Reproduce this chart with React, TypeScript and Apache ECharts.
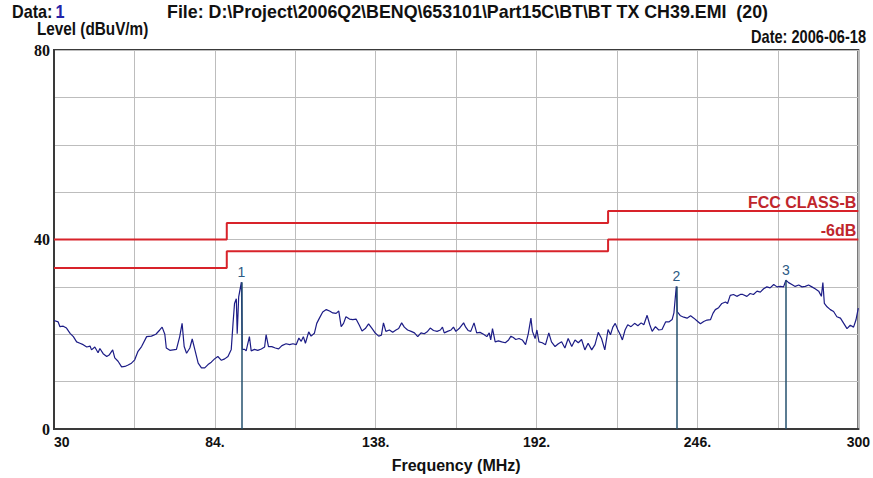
import React, { useEffect, useRef } from "react";
import * as echarts from "echarts";

// Measured trace (frequency in MHz, level in dBuV/m)
const freqs: number[] = [
  30.0, 31.4, 32.0, 33.1, 34.2, 35.4, 36.5, 37.6, 38.7, 39.8, 41.0, 42.1, 42.6, 43.7, 44.8, 45.4, 46.5, 47.7, 48.5, 49.7,
  50.4, 51.5, 52.7, 53.8, 54.9, 56.0, 57.1, 58.2, 59.4, 61.1, 62.7, 64.2, 65.5, 66.3, 67.2, 67.7, 68.9, 70.0, 71.1, 72.2,
  73.0, 73.7, 74.5, 75.6, 76.4, 77.3, 78.4, 79.5, 80.6, 81.7, 82.8, 83.9, 85.0, 86.2, 87.3, 88.4, 89.5, 90.1, 90.6, 91.2,
  91.5, 92.0, 92.9, 93.2, 94.0, 94.5, 95.6, 96.2, 97.3, 98.4, 99.6, 100.7, 101.2, 102.0, 103.1, 104.3, 105.4, 106.5, 107.9, 109.1,
  110.2, 111.3, 112.2, 113.0, 113.7, 114.4, 115.5, 116.3, 117.4, 118.2, 119.1, 120.2, 121.4, 122.5, 123.6, 124.7, 125.6, 126.4, 127.2, 128.0,
  129.2, 130.3, 131.4, 132.5, 133.4, 134.5, 135.6, 136.8, 137.9, 139.0, 139.9, 140.6, 141.4, 142.6, 143.7, 144.8, 145.7, 146.7, 147.6, 148.7,
  149.9, 151.0, 152.1, 153.2, 154.3, 155.4, 156.3, 157.4, 158.6, 159.7, 160.4, 161.0, 162.1, 163.3, 164.1, 164.9, 166.0, 167.5, 168.2, 169.0,
  169.9, 171.0, 171.9, 173.0, 174.2, 175.3, 176.1, 176.6, 177.2, 178.1, 179.2, 180.3, 181.5, 182.6, 183.4, 184.2, 185.0, 186.1, 187.2, 188.3,
  189.2, 190.1, 190.6, 191.5, 192.1, 192.8, 193.9, 195.0, 196.1, 197.0, 198.2, 199.3, 200.4, 201.5, 202.6, 203.8, 204.9, 206.0, 207.1, 208.2,
  209.3, 210.5, 211.6, 212.7, 213.8, 214.9, 216.0, 216.8, 217.6, 218.4, 219.3, 220.1, 220.8, 221.7, 222.6, 223.7, 224.9, 226.0, 227.1, 228.0,
  229.1, 230.0, 230.8, 231.9, 233.0, 234.1, 235.3, 236.4, 237.5, 238.1, 238.9, 239.2, 240.3, 241.4, 242.5, 243.7, 244.8, 245.9, 247.0, 248.1,
  249.2, 250.4, 251.2, 252.0, 253.1, 254.2, 255.4, 256.1, 257.0, 258.1, 259.2, 260.4, 261.2, 262.6, 263.7, 264.8, 266.0, 267.1, 268.2, 269.3,
  270.4, 271.6, 272.7, 273.8, 274.9, 275.7, 276.6, 277.7, 278.8, 280.0, 281.1, 282.2, 283.3, 284.4, 285.5, 286.7, 287.6, 288.1, 288.6, 289.5,
  290.6, 291.7, 292.8, 294.0, 295.1, 296.2, 297.3, 298.4, 299.2, 300.0,
];
const levels: number[] = [
  22.9, 22.6, 21.6, 21.7, 21.3, 20.2, 19.5, 18.4, 18.1, 17.8, 17.3, 17.5, 16.7, 17.3, 16.1, 17.0, 15.9, 15.3, 15.6, 16.7,
  15.0, 14.3, 13.1, 13.2, 13.5, 13.9, 14.6, 16.4, 17.4, 19.5, 19.6, 20.0, 20.9, 21.5, 20.0, 17.1, 16.6, 16.7, 16.8, 19.5,
  22.3, 17.4, 16.0, 17.1, 19.0, 16.7, 13.9, 12.9, 12.9, 13.6, 14.1, 14.8, 15.3, 14.5, 14.8, 15.3, 16.8, 22.3, 26.5, 27.5,
  20.1, 27.9, 31.0, 16.8, 16.8, 16.5, 19.5, 16.5, 16.8, 16.6, 16.9, 17.3, 19.9, 17.4, 17.4, 17.1, 16.9, 17.6, 18.0, 17.8,
  18.0, 17.8, 19.2, 18.5, 19.5, 18.1, 20.5, 19.6, 20.2, 22.3, 23.4, 24.7, 25.2, 24.9, 24.5, 24.4, 24.9, 21.6, 22.3, 23.7,
  23.2, 23.1, 23.2, 21.9, 20.7, 21.2, 22.2, 21.2, 20.2, 19.6, 19.8, 22.4, 20.6, 20.9, 20.4, 20.9, 21.2, 22.4, 21.5, 20.9,
  20.6, 20.3, 19.5, 20.3, 20.1, 20.6, 21.3, 20.8, 20.6, 20.9, 21.5, 20.3, 20.6, 20.9, 21.5, 20.6, 21.2, 22.4, 21.5, 20.8,
  20.6, 22.4, 20.3, 20.4, 20.0, 19.5, 20.3, 18.8, 21.2, 18.4, 18.6, 18.4, 18.2, 18.8, 19.6, 19.3, 18.9, 19.1, 18.8, 17.8,
  20.1, 23.4, 20.6, 19.1, 20.9, 18.4, 18.2, 17.8, 20.3, 18.4, 17.4, 18.0, 18.4, 17.1, 19.1, 17.4, 18.8, 18.2, 18.9, 16.7,
  18.1, 16.7, 17.8, 20.4, 19.1, 16.7, 21.0, 19.9, 21.5, 22.3, 20.9, 19.9, 18.8, 20.9, 22.0, 21.6, 22.3, 21.8, 22.4, 22.0,
  24.0, 22.0, 20.6, 21.6, 20.9, 21.0, 22.6, 22.6, 23.1, 24.5, 30.1, 24.8, 23.9, 23.6, 23.4, 23.9, 23.4, 22.8, 22.2, 22.7,
  23.0, 23.1, 24.4, 25.2, 25.6, 26.5, 26.8, 26.5, 28.2, 28.4, 28.0, 28.4, 28.4, 28.0, 28.6, 28.4, 29.1, 28.9, 29.6, 30.0,
  29.8, 30.5, 30.0, 30.1, 30.0, 31.4, 30.9, 30.5, 30.1, 30.4, 30.0, 30.1, 30.4, 30.0, 29.6, 29.1, 28.0, 30.9, 26.5, 25.8,
  25.2, 24.8, 23.7, 23.4, 22.3, 21.2, 21.9, 21.5, 23.0, 25.5,
];

// FCC Class B limit and the -6 dB margin line (step functions)
const limitFreqs: number[] = [30, 88, 88, 216, 216, 300];
const classBLimit: number[] = [40, 40, 43.5, 43.5, 46, 46];
const marginLimit: number[] = [34, 34, 37.5, 37.5, 40, 40];

// Markers
const markerLabels: string[] = ["1", "2", "3"];
const markerFreqs: number[] = [92.9, 238.9, 275.7];
const markerLevels: number[] = [31.0, 30.1, 31.4];

// Axis ticks
const xMin = 30;
const xMax = 300;
const xStep = 27;
const xLabelFreqs: number[] = [30, 84, 138, 192, 246, 300];
const xLabelTexts: string[] = ["30", "84.", "138.", "192.", "246.", "300"];
const yLabelValues: number[] = [0, 40, 80];

const SANS = "'Liberation Sans', Arial, sans-serif";
const SERIF = "'Liberation Serif', 'Times New Roman', serif";

export default function App() {
  const ref = useRef<HTMLDivElement>(null);

  useEffect(() => {
    if (!ref.current) return;
    const chart = echarts.init(ref.current, undefined, { renderer: "svg" });

    const trace = freqs.map((f, i) => [f, levels[i]]);
    const lim1 = limitFreqs.map((f, i) => [f, classBLimit[i]]);
    const lim2 = limitFreqs.map((f, i) => [f, marginLimit[i]]);

    const headerStyle = { fontFamily: SANS, fontWeight: "bold", fontSize: 18, fill: "#111" };

    chart.setOption({
      animation: false,
      backgroundColor: "#ffffff",
      grid: {
        left: 54,
        right: 13,
        top: 50,
        bottom: 47,
        show: true,
        borderColor: "#3a3a3a",
        borderWidth: 2,
        backgroundColor: "#ffffff",
      },
      xAxis: {
        type: "value",
        min: xMin,
        max: xMax,
        interval: xStep,
        name: "Frequency (MHz)",
        nameLocation: "middle",
        nameGap: 28,
        nameTextStyle: { fontFamily: SANS, fontWeight: "bold", fontSize: 16, color: "#111" },
        axisLine: { show: true, lineStyle: { color: "#3a3a3a", width: 2 } },
        axisTick: { show: false },
        splitLine: { show: true, lineStyle: { color: "#bdbdbd", width: 1 } },
        axisLabel: {
          margin: 6,
          fontFamily: SANS,
          fontWeight: "bold",
          fontSize: 14,
          color: "#111",
          showMinLabel: true,
          showMaxLabel: true,
          alignMinLabel: "left",
          formatter: (v: number) => {
            const idx = xLabelFreqs.findIndex((f) => Math.abs(f - v) < 0.01);
            return idx >= 0 ? xLabelTexts[idx] : "";
          },
        },
      },
      yAxis: {
        type: "value",
        min: 0,
        max: 80,
        interval: 10,
        axisLine: { show: true, lineStyle: { color: "#3a3a3a", width: 2 } },
        axisTick: { show: false },
        splitLine: { show: true, lineStyle: { color: "#bdbdbd", width: 1 } },
        axisLabel: {
          margin: 4,
          fontFamily: SERIF,
          fontWeight: "bold",
          fontSize: 16,
          color: "#111",
          formatter: (v: number) => (yLabelValues.includes(v) ? String(v) : ""),
        },
      },
      series: [
        {
          type: "line",
          data: lim1,
          symbol: "none",
          lineStyle: { color: "#d8232a", width: 2 },
          z: 3,
          endLabel: {
            show: true,
            formatter: "FCC CLASS-B",
            align: "right",
            verticalAlign: "bottom",
            offset: [-10, -1],
            fontFamily: SANS,
            fontWeight: "bold",
            fontSize: 16,
            color: "#c0262c",
          },
        },
        {
          type: "line",
          data: lim2,
          symbol: "none",
          lineStyle: { color: "#d8232a", width: 2 },
          z: 3,
          endLabel: {
            show: true,
            formatter: "-6dB",
            align: "right",
            verticalAlign: "bottom",
            offset: [-10, -1],
            fontFamily: SANS,
            fontWeight: "bold",
            fontSize: 16,
            color: "#c0262c",
          },
        },
        {
          type: "line",
          data: trace,
          symbol: "none",
          lineStyle: { color: "#1c1c86", width: 1.2 },
          z: 4,
          markLine: {
            silent: true,
            symbol: ["none", "none"],
            lineStyle: { color: "#24506e", width: 1.5, type: "solid" },
            label: {
              show: true,
              position: "end",
              distance: 3,
              fontFamily: SANS,
              fontSize: 14,
              color: "#2d5a84",
              formatter: (p: any) => p.name,
            },
            data: markerFreqs.map((f, i) => [
              { coord: [f, 0], name: markerLabels[i] },
              { coord: [f, markerLevels[i]] },
            ]),
          },
        },
      ],
      graphic: [
        {
          type: "text",
          x: 12,
          y: 3,
          scaleX: 0.9,
          style: {
            text: "{a|Data:} {b|1}",
            rich: {
              a: { ...headerStyle },
              b: { ...headerStyle, fill: "#2323a8" },
            },
          },
        },
        {
          type: "text",
          x: 167,
          y: 3,
          scaleX: 0.99,
          style: {
            ...headerStyle,
            text: "File: D:\\Project\\2006Q2\\BENQ\\653101\\Part15C\\BT\\BT TX CH39.EMI  (20)",
          },
        },
        {
          type: "text",
          x: 37,
          y: 20,
          scaleX: 0.85,
          style: { ...headerStyle, text: "Level (dBuV/m)" },
        },
        {
          type: "text",
          x: 866,
          y: 27,
          scaleX: 0.81,
          style: { ...headerStyle, text: "Date: 2006-06-18", align: "right" },
        },
      ],
    });

    return () => chart.dispose();
  }, []);

  return (
    <div
      ref={ref}
      style={{ position: "fixed", left: 0, top: 0, width: 873, height: 478, background: "#fff" }}
    />
  );
}
